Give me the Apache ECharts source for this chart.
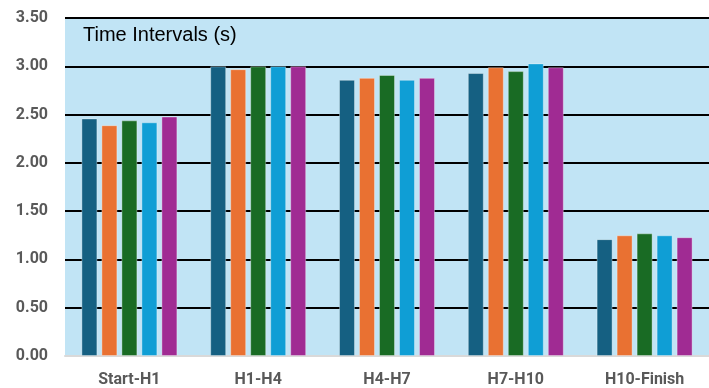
<!DOCTYPE html>
<html>
<head>
<meta charset="utf-8">
<script src="https://cdn.jsdelivr.net/npm/echarts@6/dist/echarts.min.js"></script>
<style>
  html, body { margin: 0; padding: 0; background: #fff; }
  #chart { width: 709px; height: 388px; }
</style>
</head>
<body>
<div id="chart"></div>
<script>
// segments of the race
const categories = ['Start-H1', 'H1-H4', 'H4-H7', 'H7-H10', 'H10-Finish']

// five series, values
const series1 = [2.46, 3.00, 2.86, 2.93, 1.21]
const series2 = [2.39, 2.97, 2.88, 2.99, 1.25]
const series3 = [2.44, 3.00, 2.91, 2.95, 1.27]
const series4 = [2.42, 3.00, 2.86, 3.03, 1.25]
const series5 = [2.48, 3.00, 2.88, 2.99, 1.23]

const colors = ['#156082', '#e97132', '#196b24', '#0f9ed5', '#a02b93']

let chart = echarts.init(document.getElementById('chart'))

let seriesData = [series1, series2, series3, series4, series5].map((data, i) => ({
    name: 'S' + (i + 1),
    type: 'bar',
    barWidth: 16,
    barGap: '25%',
    itemStyle: {
        color: colors[i],
        borderColor: 'rgba(255,255,255,0.35)',
        borderWidth: 1
    },
    data: data
}))

let option = {
    animation: false,
    title: {
        text: 'Time Intervals (s)',
        left: 78,
        top: 20,
        textStyle: {
            fontFamily: 'Liberation Sans',
            fontWeight: 'normal',
            fontSize: 20,
            color: '#000'
        }
    },
    grid: {
        left: 65,
        right: 0,
        top: 18,
        bottom: 31,
        show: true,
        backgroundColor: '#c1e4f5',
        borderWidth: 0
    },
    xAxis: {
        type: 'category',
        data: categories,
        axisTick: { show: false },
        axisLine: {
            lineStyle: { color: '#d9d9d9', width: 2 }
        },
        axisLabel: {
            margin: 16,
            color: '#595959',
            fontFamily: 'Roboto',
            fontWeight: 'bold',
            fontSize: 16
        }
    },
    yAxis: {
        type: 'value',
        min: 0,
        max: 3.5,
        interval: 0.5,
        axisLine: { show: false },
        axisTick: { show: false },
        splitLine: {
            lineStyle: { color: '#000', width: 2 }
        },
        axisLabel: {
            margin: 17,
            color: '#595959',
            fontFamily: 'Roboto',
            fontWeight: 'bold',
            fontSize: 16,
            formatter: v => v.toFixed(2)
        }
    },
    series: seriesData
}

chart.setOption(option)
</script>
</body>
</html>
